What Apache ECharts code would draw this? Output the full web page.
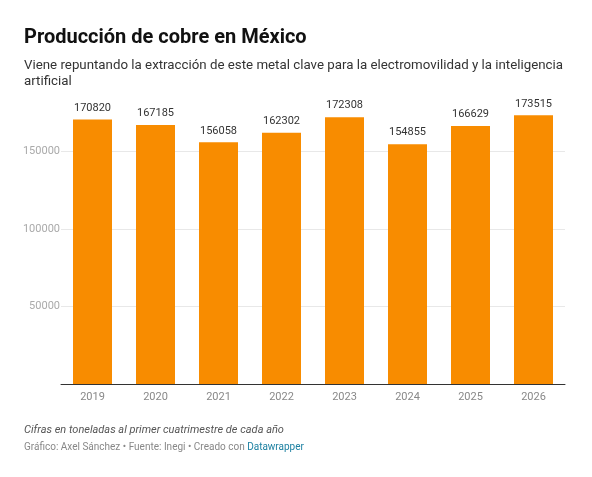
<!DOCTYPE html>
<html>
<head>
<meta charset="utf-8">
<script src="https://cdn.jsdelivr.net/npm/echarts@6/dist/echarts.min.js"></script>
<style>
  html, body { margin: 0; padding: 0; background: #fff; }
  #chart { width: 592px; height: 477px; }
</style>
</head>
<body>
<div id="chart"></div>
<script>
// datos
var years = ['2019', '2020', '2021', '2022', '2023', '2024', '2025', '2026'];
var produccion = [170820, 167185, 156058, 162302, 172308, 154855, 166629, 173515];

var font = 'Roboto, "Noto Sans", sans-serif';
var chart = echarts.init(document.getElementById('chart'));

chart.setOption({
    animation: false,
    textStyle: { fontFamily: font },
    title: [{
        text: 'Producción de cobre en México',
        left: 24, top: 26, padding: 0,
        textStyle: { fontSize: 20, fontWeight: 'bold', color: '#111', lineHeight: 24, fontFamily: font }
    }, {
        text: 'Viene repuntando la extracción de este metal clave para la electromovilidad y la inteligencia\nartificial',
        left: 24, top: 58, padding: 0,
        textStyle: { fontSize: 13.3, fontWeight: 'normal', color: '#333', lineHeight: 16, fontFamily: font }
    }, {
        text: 'Cifras en toneladas al primer cuatrimestre de cada año',
        left: 24, top: 423, padding: 0,
        textStyle: { fontSize: 11, fontStyle: 'italic', fontWeight: 'normal', color: '#555', lineHeight: 14, fontFamily: font }
    }, {
        text: 'Gráfico: Axel Sánchez • Fuente: Inegi • Creado con {a|Datawrapper}',
        left: 24, top: 441, padding: 0,
        textStyle: {
            fontSize: 10, fontWeight: 'normal', color: '#888', lineHeight: 13, fontFamily: font,
            rich: { a: { color: '#1d81a2', fontSize: 10, lineHeight: 13, fontFamily: font } }
        }
    }],
    grid: { left: 61, right: 27, top: 113, bottom: 93 },
    xAxis: {
        type: 'category',
        data: years,
        axisLine: { lineStyle: { color: '#333', width: 1 } },
        axisTick: { show: false },
        axisLabel: { color: '#888', fontSize: 11, margin: 8 }
    },
    yAxis: {
        type: 'value',
        min: 0, max: 175000, interval: 50000,
        axisLine: { show: false },
        axisTick: { show: false },
        axisLabel: { color: '#aaa', fontSize: 11, margin: 1, showMinLabel: false, showMaxLabel: false,
            formatter: function (v) { return v % 50000 === 0 ? String(v) : ''; } },
        splitLine: { showMinLine: false, showMaxLine: false, lineStyle: { color: '#e8e8e8', width: 1 } }
    },
    series: [{
        type: 'bar',
        data: produccion,
        barWidth: 39,
        itemStyle: { color: '#f88c00' },
        label: { show: true, position: 'top', distance: 6, color: '#333', fontSize: 11 }
    }]
});
</script>
</body>
</html>
